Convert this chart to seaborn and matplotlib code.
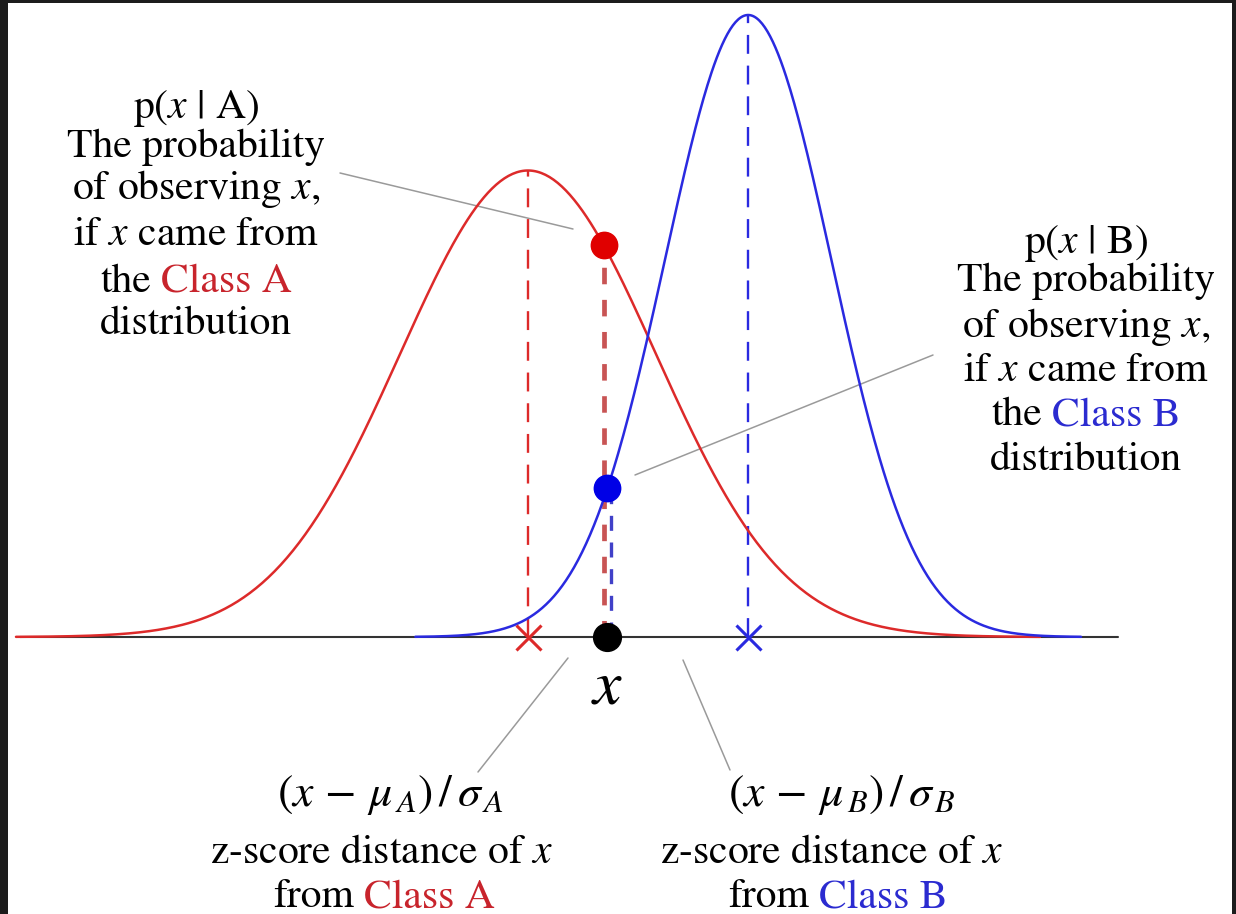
import numpy as np
import pandas as pd
import matplotlib
matplotlib.use("Agg")
import matplotlib.pyplot as plt
import seaborn as sns
from matplotlib.patches import Rectangle

# ---------------- data (z-units of class A, relative density) ----------------
classes = ["A", "B"]
means = [0.0, 1.72]
sds = [1.0, 0.65]
peaks = [0.75, 1.0]
x_obs = 0.62

RED, BLUE = "#dd2a2a", "#2a2ae0"
RED_DOT, BLUE_DOT = "#e00000", "#0000e6"
RED_TXT, BLUE_TXT = "#c8242c", "#2b2bd0"
GRAY = "#9a9a9a"

sns.set_theme(style="white")
plt.rcParams["font.family"] = ["STIXGeneral", "DejaVu Serif"]
plt.rcParams["mathtext.fontset"] = "stix"

W, H = 1236, 914
fig = plt.figure(figsize=(W / 100, H / 100), dpi=100)
fig.patch.set_facecolor("#1c1c1c")
fig.add_artist(Rectangle((8 / W, 0), (1232 - 8) / W, (H - 3) / H,
                         transform=fig.transFigure, facecolor="white",
                         edgecolor="none", zorder=-5))
ax = fig.add_axes([0, 0, 1, 1])
ax.set_facecolor("none")
ax.axis("off")

# layout mapping (reference pixels -> data units)
X0, SX, Y0, SY = 528, 128, 637, 622
ax.set_xlim(-X0 / SX, (W - X0) / SX)
ax.set_ylim(-(H - Y0) / SY, Y0 / SY)


def P(px, py):
    return ((px - X0) / SX, (Y0 - py) / SY)


def dens(x, m, s, pk):
    return pk * np.exp(-0.5 * ((x - m) / s) ** 2)


# baseline
ax.plot([P(20, 0)[0], P(1118, 0)[0]], [0, 0], color="#333333", lw=1.5, zorder=1)

# curves
rows = []
for c, m, s, pk in zip(classes, means, sds, peaks):
    xs = np.linspace(m - 4 * s, m + 4 * s, 500)
    rows.append(pd.DataFrame({"x": xs, "density": dens(xs, m, s, pk), "cls": c}))
df = pd.concat(rows, ignore_index=True)
sns.lineplot(data=df, x="x", y="density", hue="cls", palette={"A": RED, "B": BLUE},
             lw=1.8, legend=False, sort=False, ax=ax, zorder=3)

# mean dashed lines and x markers
for m, pk, col in zip(means, peaks, [RED, BLUE]):
    ax.plot([m, m], [0, pk], color=col, lw=1.7, ls=(0, (8, 5)), zorder=2)
    ax.plot([m], [0], marker="x", ms=18, mew=2.2, color=col, ls="none", zorder=4)

# observation lines / dots
dx = 0.03
yA = dens(x_obs - dx, means[0], sds[0], peaks[0])
yB = dens(x_obs, means[1], sds[1], peaks[1])
ax.plot([x_obs - dx, x_obs - dx], [0, yA], color="#c85454", lw=3.4, ls=(0, (3.5, 3.3)), zorder=2)
ax.plot([x_obs + dx, x_obs + dx], [0, yB], color="#4040c8", lw=2.4, ls=(0, (4.5, 3.5)), zorder=2)
ax.plot([x_obs - dx], [yA], "o", ms=19, color=RED_DOT, zorder=6)
ax.plot([x_obs], [yB], "o", ms=19, color=BLUE_DOT, zorder=6)
ax.plot([x_obs], [0], "o", ms=20, color="black", zorder=6)

# leader lines
for (a, b) in [((340, 173), (573, 229)), ((635, 475), (933, 355)),
               ((568, 658), (478, 772)), ((683, 660), (730, 770))]:
    pa, pb = P(*a), P(*b)
    ax.plot([pa[0], pb[0]], [pa[1], pb[1]], color=GRAY, lw=1.1, zorder=1)

FS = 30
renderer = fig.canvas.get_renderer()


def tline(cx, by, s, size=FS, color="black"):
    x, y = P(cx, by)
    return ax.text(x, y, s, fontsize=size, color=color, ha="center", va="baseline")


def mixed(cx, by, left, right, rcol, size=FS):
    full = tline(cx, by, left + " " + right, size=size, color="none")
    bb = full.get_window_extent(renderer)
    full.remove()
    x0 = P(bb.x0, by)[0]
    x1 = P(bb.x1, by)[0]
    y = P(cx, by)[1]
    ax.text(x0, y, left, fontsize=size, color="black", ha="left", va="baseline")
    ax.text(x1, y, right, fontsize=size, color=rcol, ha="right", va="baseline")


# left block
tline(196, 118, r"p($x$ | A)")
tline(196, 157, "The probability")
tline(196, 199, r"of observing $x$,")
tline(196, 245, r"if $x$ came from")
mixed(196, 292, "the", "Class A", RED_TXT)
tline(196, 334, "distribution")

# right block
tline(1086, 253, r"p($x$ | B)")
tline(1086, 291, "The probability")
tline(1086, 337, r"of observing $x$,")
tline(1086, 381, r"if $x$ came from")
mixed(1086, 425, "the", "Class B", BLUE_TXT)
tline(1086, 470, "distribution")

# bottom blocks
tline(390, 806, r"$(x\,-\,\mu_{\,A})\,/\,\sigma_{\,A}$", size=33)
tline(382, 863, r"z-score distance of $x$")
mixed(384, 907, "from", "Class A", RED_TXT)

tline(842, 806, r"$(x\,-\,\mu_{\,B})\,/\,\sigma_{\,B}$", size=33)
tline(832, 863, r"z-score distance of $x$")
mixed(838, 907, "from", "Class B", BLUE_TXT)

# x label
xl, yl = P(606, 703)
ax.text(x_obs, yl, r"$x$", fontsize=46, ha="center", va="baseline", color="black")

fig.savefig("out.png", dpi=100, facecolor=fig.get_facecolor())
